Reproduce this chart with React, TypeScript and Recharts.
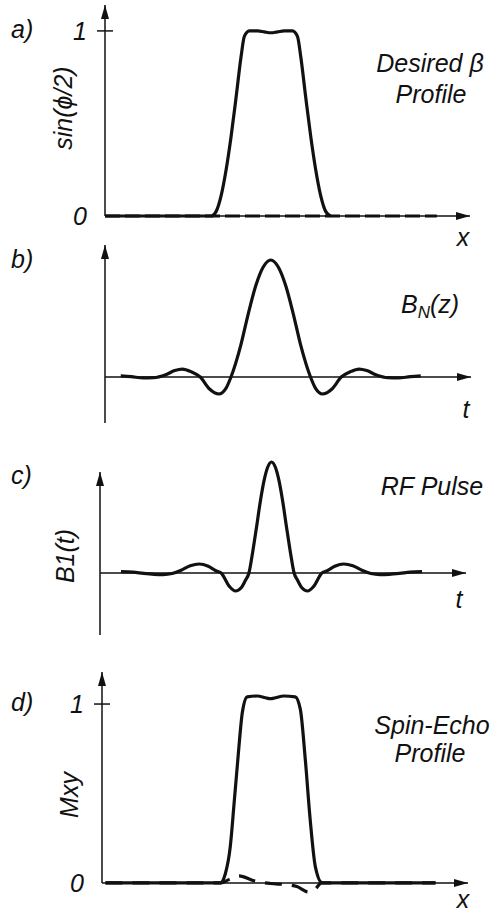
import React from 'react';
import { LineChart, Line, XAxis, YAxis, ReferenceLine, ReferenceDot } from 'recharts';

// a) desired beta profile, sin(phi/2) vs x
const betaX = [-1, -0.6, -0.36, -0.33, -0.3, -0.27, -0.24, -0.21, -0.18, -0.16, -0.13, -0.08, -0.04, 0, 0.04, 0.08, 0.13, 0.16, 0.18, 0.21, 0.24, 0.27, 0.3, 0.33, 0.36];
const betaY = [0, 0, 0, 0.025, 0.11, 0.25, 0.43, 0.64, 0.86, 0.97, 1.0, 1.0, 0.995, 0.99, 0.995, 1.0, 1.0, 0.97, 0.86, 0.64, 0.43, 0.25, 0.11, 0.025, 0];
const betaDashX = [-1, 1];
const betaDashY = [0, 0];

// b) B_N(z) vs t
const bnT = [-1, -0.93, -0.85, -0.78, -0.7, -0.64, -0.59, -0.53, -0.47, -0.41, -0.345, -0.3, -0.265, -0.2, -0.15, -0.1, -0.05, 0, 0.05, 0.1, 0.15, 0.2, 0.265, 0.3, 0.345, 0.41, 0.47, 0.53, 0.59, 0.64, 0.7, 0.78, 0.85, 0.93, 1];
const bnY = [0.01, 0.003, -0.008, -0.006, 0.02, 0.055, 0.068, 0.045, 0, -0.1, -0.145, -0.1, 0, 0.27, 0.54, 0.78, 0.94, 1, 0.94, 0.78, 0.54, 0.27, 0, -0.1, -0.145, -0.1, 0, 0.045, 0.068, 0.055, 0.02, -0.006, -0.008, 0.003, 0.01];

// c) RF pulse B1(t)
const rfT = [-1, -0.92, -0.85, -0.78, -0.72, -0.66, -0.6, -0.54, -0.48, -0.42, -0.37, -0.335, -0.28, -0.24, -0.2, -0.175, -0.15, -0.125, -0.1, -0.075, -0.05, -0.025, 0, 0.025, 0.05, 0.075, 0.1, 0.125, 0.15, 0.175, 0.2, 0.24, 0.28, 0.335, 0.37, 0.42, 0.48, 0.54, 0.6, 0.66, 0.72, 0.78, 0.85, 0.92, 1];
const rfY = [0.012, 0.008, -0.004, -0.012, -0.014, -0.004, 0.025, 0.065, 0.081, 0.06, 0.02, 0, -0.12, -0.162, -0.13, -0.07, 0, 0.19, 0.41, 0.64, 0.83, 0.955, 1, 0.955, 0.83, 0.64, 0.41, 0.19, 0, -0.07, -0.13, -0.162, -0.12, 0, 0.02, 0.06, 0.081, 0.065, 0.025, -0.004, -0.014, -0.012, -0.004, 0.008, 0.012];

// d) spin-echo profile Mxy vs x
const mxyX = [-1, -0.6, -0.304, -0.274, -0.244, -0.22, -0.195, -0.171, -0.141, -0.08, -0.03, 0, 0.03, 0.08, 0.15, 0.181, 0.211, 0.241, 0.272, 0.314, 0.6, 1];
const mxyY = [0, 0, 0, 0.05, 0.2, 0.45, 0.72, 0.95, 1.04, 1.045, 1.035, 1.03, 1.035, 1.045, 1.04, 0.97, 0.69, 0.35, 0.09, 0, 0, 0];
const mxyDashX = [-1, -0.5, -0.3, -0.25, -0.19, -0.1, 0, 0.1, 0.16, 0.23, 0.27, 0.31, 0.5, 1];
const mxyDashY = [0, 0, 0, 0.02, 0.04, 0.012, -0.003, -0.01, -0.02, -0.05, -0.035, 0, 0, 0];

const zip = (xs: number[], ys: number[]) => xs.map((x, i) => ({ x, y: ys[i] }));

const INK = '#111';
const FONT = "'Liberation Sans', Arial, Helvetica, sans-serif";
const txt = { fontFamily: FONT, fontStyle: 'italic' as const, fontSize: 25, fill: INK };

const ArrowUp = (p: any) => (
  <path d={`M${p.cx},${p.cy} L${p.cx - 4},${p.cy + 14} L${p.cx + 4},${p.cy + 14} Z`} fill={INK} />
);
const ArrowRight = (p: any) => (
  <path d={`M${p.cx},${p.cy} L${p.cx - 14},${p.cy - 4} L${p.cx - 14},${p.cy + 4} Z`} fill={INK} />
);

const AxisTick = (props: any) => {
  const { x, y, payload } = props;
  return (
    <g>
      {payload.value === 1 && <line x1={x - 8} x2={x + 8} y1={y} y2={y} stroke={INK} strokeWidth={1.5} />}
      <text x={x - 18} y={y + 9} textAnchor="end" {...txt}>
        {payload.value}
      </text>
    </g>
  );
};

interface PanelProps {
  height: number;
  margin: { top: number; right: number; bottom: number; left: number };
  xDomain: [number, number];
  yDomain: [number, number];
  yAxisFrom: number;
  yAxisTo: number;
  yTicks?: number[];
  solid: { x: number; y: number }[];
  dashed?: { x: number; y: number }[];
  dash?: string;
  children?: React.ReactNode;
}

const Panel: React.FC<PanelProps> = ({ height, margin, xDomain, yDomain, yAxisFrom, yAxisTo, yTicks, solid, dashed, dash, children }) => (
  <div style={{ position: 'relative', width: 496, height }}>
    <LineChart width={496} height={height} margin={margin}>
      <XAxis type="number" dataKey="x" domain={xDomain} hide />
      {yTicks ? (
        <YAxis
          type="number"
          domain={yDomain}
          ticks={yTicks}
          axisLine={false}
          tickLine={false}
          tickSize={0}
          tickMargin={0}
          width={60}
          tick={<AxisTick />}
        />
      ) : (
        <YAxis type="number" domain={yDomain} hide />
      )}
      <ReferenceLine y={0} stroke={INK} strokeWidth={1.5} ifOverflow="visible" />
      <ReferenceLine
        segment={[{ x: xDomain[0], y: yAxisFrom }, { x: xDomain[0], y: yAxisTo }]}
        stroke={INK}
        strokeWidth={1.5}
        ifOverflow="visible"
      />
      <ReferenceDot x={xDomain[1]} y={0} shape={ArrowRight} ifOverflow="visible" />
      <ReferenceDot x={xDomain[0]} y={yAxisTo} shape={ArrowUp} ifOverflow="visible" />
      {dashed && (
        <Line data={dashed} dataKey="y" type="monotone" stroke={INK} strokeWidth={3.2} strokeDasharray={dash} dot={false} activeDot={false} isAnimationActive={false} />
      )}
      <Line data={solid} dataKey="y" type="monotone" stroke={INK} strokeWidth={3.2} dot={false} activeDot={false} isAnimationActive={false} />
    </LineChart>
    <svg width={496} height={height} style={{ position: 'absolute', left: 0, top: 0, overflow: 'visible', pointerEvents: 'none' }}>
      {children}
    </svg>
  </div>
);

export default function App() {
  return (
    <div style={{ position: 'absolute', left: 0, top: 0, width: 496, height: 915, background: '#fff' }}>
      <Panel
        height={240}
        margin={{ top: 5, right: 26, bottom: 24, left: 45 }}
        xDomain={[-1, 1.2]}
        yDomain={[0, 1.14]}
        yAxisFrom={0}
        yAxisTo={1.14}
        yTicks={[0, 1]}
        solid={zip(betaX, betaY)}
        dashed={zip(betaDashX, betaDashY)}
        dash="15 5"
      >
        <text x={11} y={38} {...txt}>a)</text>
        <text transform="translate(72,108) rotate(-90)" textAnchor="middle" {...txt}>sin(ϕ/2)</text>
        <text x={430} y={72} textAnchor="middle" {...txt}>Desired β</text>
        <text x={431} y={103} textAnchor="middle" {...txt}>Profile</text>
        <text x={463} y={246} textAnchor="middle" {...txt}>x</text>
      </Panel>
      <Panel
        height={200}
        margin={{ top: 5, right: 25, bottom: 17, left: 105 }}
        xDomain={[-1.105, 1.335]}
        yDomain={[-0.393, 1.128]}
        yAxisFrom={-0.393}
        yAxisTo={1.128}
        solid={zip(bnT, bnY)}
      >
        <text x={11} y={28} {...txt}>b)</text>
        <text x={401} y={73} {...txt}>
          B<tspan dy={5} fontSize={17}>N</tspan><tspan dy={-5}>(z)</tspan>
        </text>
        <text x={466} y={178} textAnchor="middle" {...txt}>t</text>
      </Panel>
      <Panel
        height={220}
        margin={{ top: 15, right: 30, bottom: 25, left: 100 }}
        xDomain={[-1.1395, 1.292]}
        yDomain={[-0.5586, 1.063]}
        yAxisFrom={-0.5586}
        yAxisTo={0.91}
        solid={zip(rfT, rfY)}
      >
        <text x={11} y={44} {...txt}>c)</text>
        <text x={432} y={55} textAnchor="middle" {...txt}>RF Pulse</text>
        <text transform="translate(74,116) rotate(-90)" textAnchor="middle" {...txt}>B1(t)</text>
        <text x={459} y={168} textAnchor="middle" {...txt}>t</text>
      </Panel>
      <Panel
        height={255}
        margin={{ top: 12, right: 28, bottom: 21.3, left: 42 }}
        xDomain={[-1.021, 1.197]}
        yDomain={[-0.06, 1.179]}
        yAxisFrom={0}
        yAxisTo={1.179}
        yTicks={[0, 1]}
        solid={zip(mxyX, mxyY)}
        dashed={zip(mxyDashX, mxyDashY)}
        dash="17 10"
      >
        <text x={11} y={51} {...txt}>d)</text>
        <text transform="translate(78,135) rotate(-90)" textAnchor="middle" {...txt}>Mxy</text>
        <text x={432} y={74} textAnchor="middle" {...txt}>Spin-Echo</text>
        <text x={430} y={102} textAnchor="middle" {...txt}>Profile</text>
        <text x={463} y={248} textAnchor="middle" {...txt}>x</text>
      </Panel>
    </div>
  );
}
